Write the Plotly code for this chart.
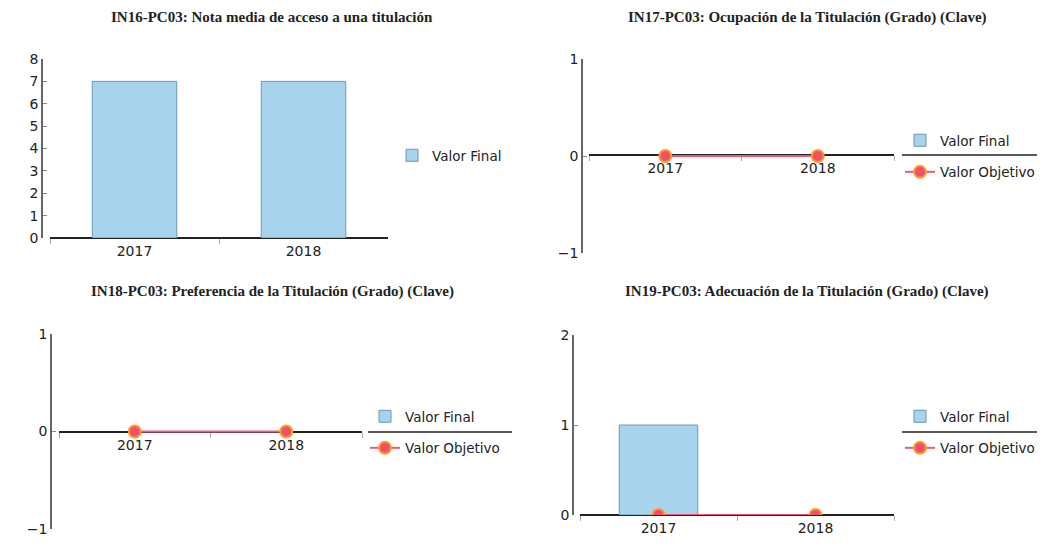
import plotly.graph_objects as go

# la pagina deja 8px de margen en el body
OFF = 8
W, H = 1045 - OFF, 546 - OFF

years = ["2017", "2018"]

titles = [
    "IN16-PC03: Nota media de acceso a una titulación",
    "IN17-PC03: Ocupación de la Titulación (Grado) (Clave)",
    "IN18-PC03: Preferencia de la Titulación (Grado) (Clave)",
    "IN19-PC03: Adecuación de la Titulación (Grado) (Clave)",
]

# valores por indicador (None = sin dato)
valor_final_in16 = [7, 7]
valor_final_in17 = [None, None]
valor_objetivo_in17 = [0, 0]
valor_final_in18 = [None, None]
valor_objetivo_in18 = [0, 0]
valor_final_in19 = [1, None]
valor_objetivo_in19 = [0, 0]

y_ranges = [[0, 8], [-1, 1], [-1, 1], [0, 2]]
y_ticks = [list(range(0, 9)), [-1, 0, 1], [-1, 0, 1], [0, 1, 2]]

finals = [valor_final_in16, valor_final_in17, valor_final_in18, valor_final_in19]
objetivos = [None, valor_objetivo_in17, valor_objetivo_in18, valor_objetivo_in19]


def px_x(p):
    return (p - OFF) / W


def px_y(p):
    return 1 - (p - OFF) / H


# posiciones en pixeles de pantalla (title = borde superior del texto)
panels = [
    dict(x=(50, 388), y=(59, 238), yax=42, xax=238, title=(272, 8),
         leg=(392, 140), sep=None),
    dict(x=(589, 894), y=(59, 253), yax=582, xax=155, title=(807, 8),
         leg=(900, 125), sep=(902, 1045, 155)),
    dict(x=(59, 362), y=(334, 529), yax=51, xax=432, title=(272, 282),
         leg=(365, 401), sep=(368, 512, 432)),
    dict(x=(580, 894), y=(335, 515), yax=573, xax=515, title=(807, 282),
         leg=(900, 401), sep=(902, 1045, 432)),
]

BAR_FILL = "#a8d3ec"
BAR_LINE = "#6a98b6"
OBJ_LINE = "#ee5a78"
OBJ_FILL = "#f0506a"
OBJ_EDGE = "#ff9a2e"

fig = go.Figure()
layout = dict(
    width=W,
    height=H,
    margin=dict(l=0, r=0, t=0, b=0, autoexpand=False),
    paper_bgcolor="white",
    plot_bgcolor="white",
    showlegend=True,
    font=dict(family="DejaVu Sans", size=13, color="#222"),
    annotations=[],
    shapes=[],
)

for i, p in enumerate(panels):
    n = "" if i == 0 else str(i + 1)
    xa, ya = "x" + n, "y" + n
    leg = "legend" + n

    fig.add_trace(go.Bar(
        x=years, y=finals[i], name="Valor Final", xaxis=xa, yaxis=ya,
        width=0.5, marker=dict(color=BAR_FILL, line=dict(color=BAR_LINE, width=1)),
        legend=leg, legendgroup="f" + n,
    ))
    if objetivos[i] is not None:
        fig.add_trace(go.Scatter(
            x=years, y=objetivos[i], name="Valor Objetivo", xaxis=xa, yaxis=ya,
            mode="lines+markers", line=dict(color=OBJ_LINE, width=2),
            marker=dict(size=12, color=OBJ_FILL, line=dict(color=OBJ_EDGE, width=2)),
            legend=leg, legendgroup="o" + n,
        ))

    layout["xaxis" + n] = dict(
        domain=[px_x(p["x"][0]), px_x(p["x"][1])],
        anchor="free", position=px_y(p["xax"]),
        type="category", range=[-0.5, 1.5],
        showline=True, linecolor="#222", linewidth=1.5,
        ticks="outside", tickson="boundaries", ticklen=5, tickcolor="#aaa",
        showgrid=False, zeroline=False, layer="below traces",
        tickfont=dict(size=14, color="#222"),
        fixedrange=True,
    )
    layout["yaxis" + n] = dict(
        domain=[px_y(p["y"][1]), px_y(p["y"][0])],
        anchor="free", position=px_x(p["yax"]),
        range=y_ranges[i], tickvals=y_ticks[i],
        showline=True, linecolor="#666", linewidth=1.5,
        ticks="inside", ticklen=4, tickcolor="#888",
        showgrid=False, zeroline=False, layer="below traces",
        tickfont=dict(size=14, color="#222"),
        fixedrange=True,
    )
    layout[leg] = dict(
        x=px_x(p["leg"][0]), y=px_y(p["leg"][1]),
        xanchor="left", yanchor="top",
        bgcolor="rgba(0,0,0,0)", borderwidth=0,
        tracegroupgap=11, traceorder="grouped",
        font=dict(family="DejaVu Sans", size=13.5, color="#222"),
    )
    layout["annotations"].append(dict(
        text="<b>" + titles[i] + "</b>", xref="paper", yref="paper",
        x=px_x(p["title"][0]), y=px_y(p["title"][1]),
        xanchor="center", yanchor="top", showarrow=False, borderpad=0,
        font=dict(family="Liberation Serif", size=15, color="#222"),
    ))
    if p["sep"] is not None:
        x0, x1, yy = p["sep"]
        layout["shapes"].append(dict(
            type="line", xref="paper", yref="paper",
            x0=px_x(x0), x1=px_x(x1), y0=px_y(yy), y1=px_y(yy),
            line=dict(color="#222", width=1.5),
        ))

fig.update_layout(**layout)
fig.write_html("out.html")
